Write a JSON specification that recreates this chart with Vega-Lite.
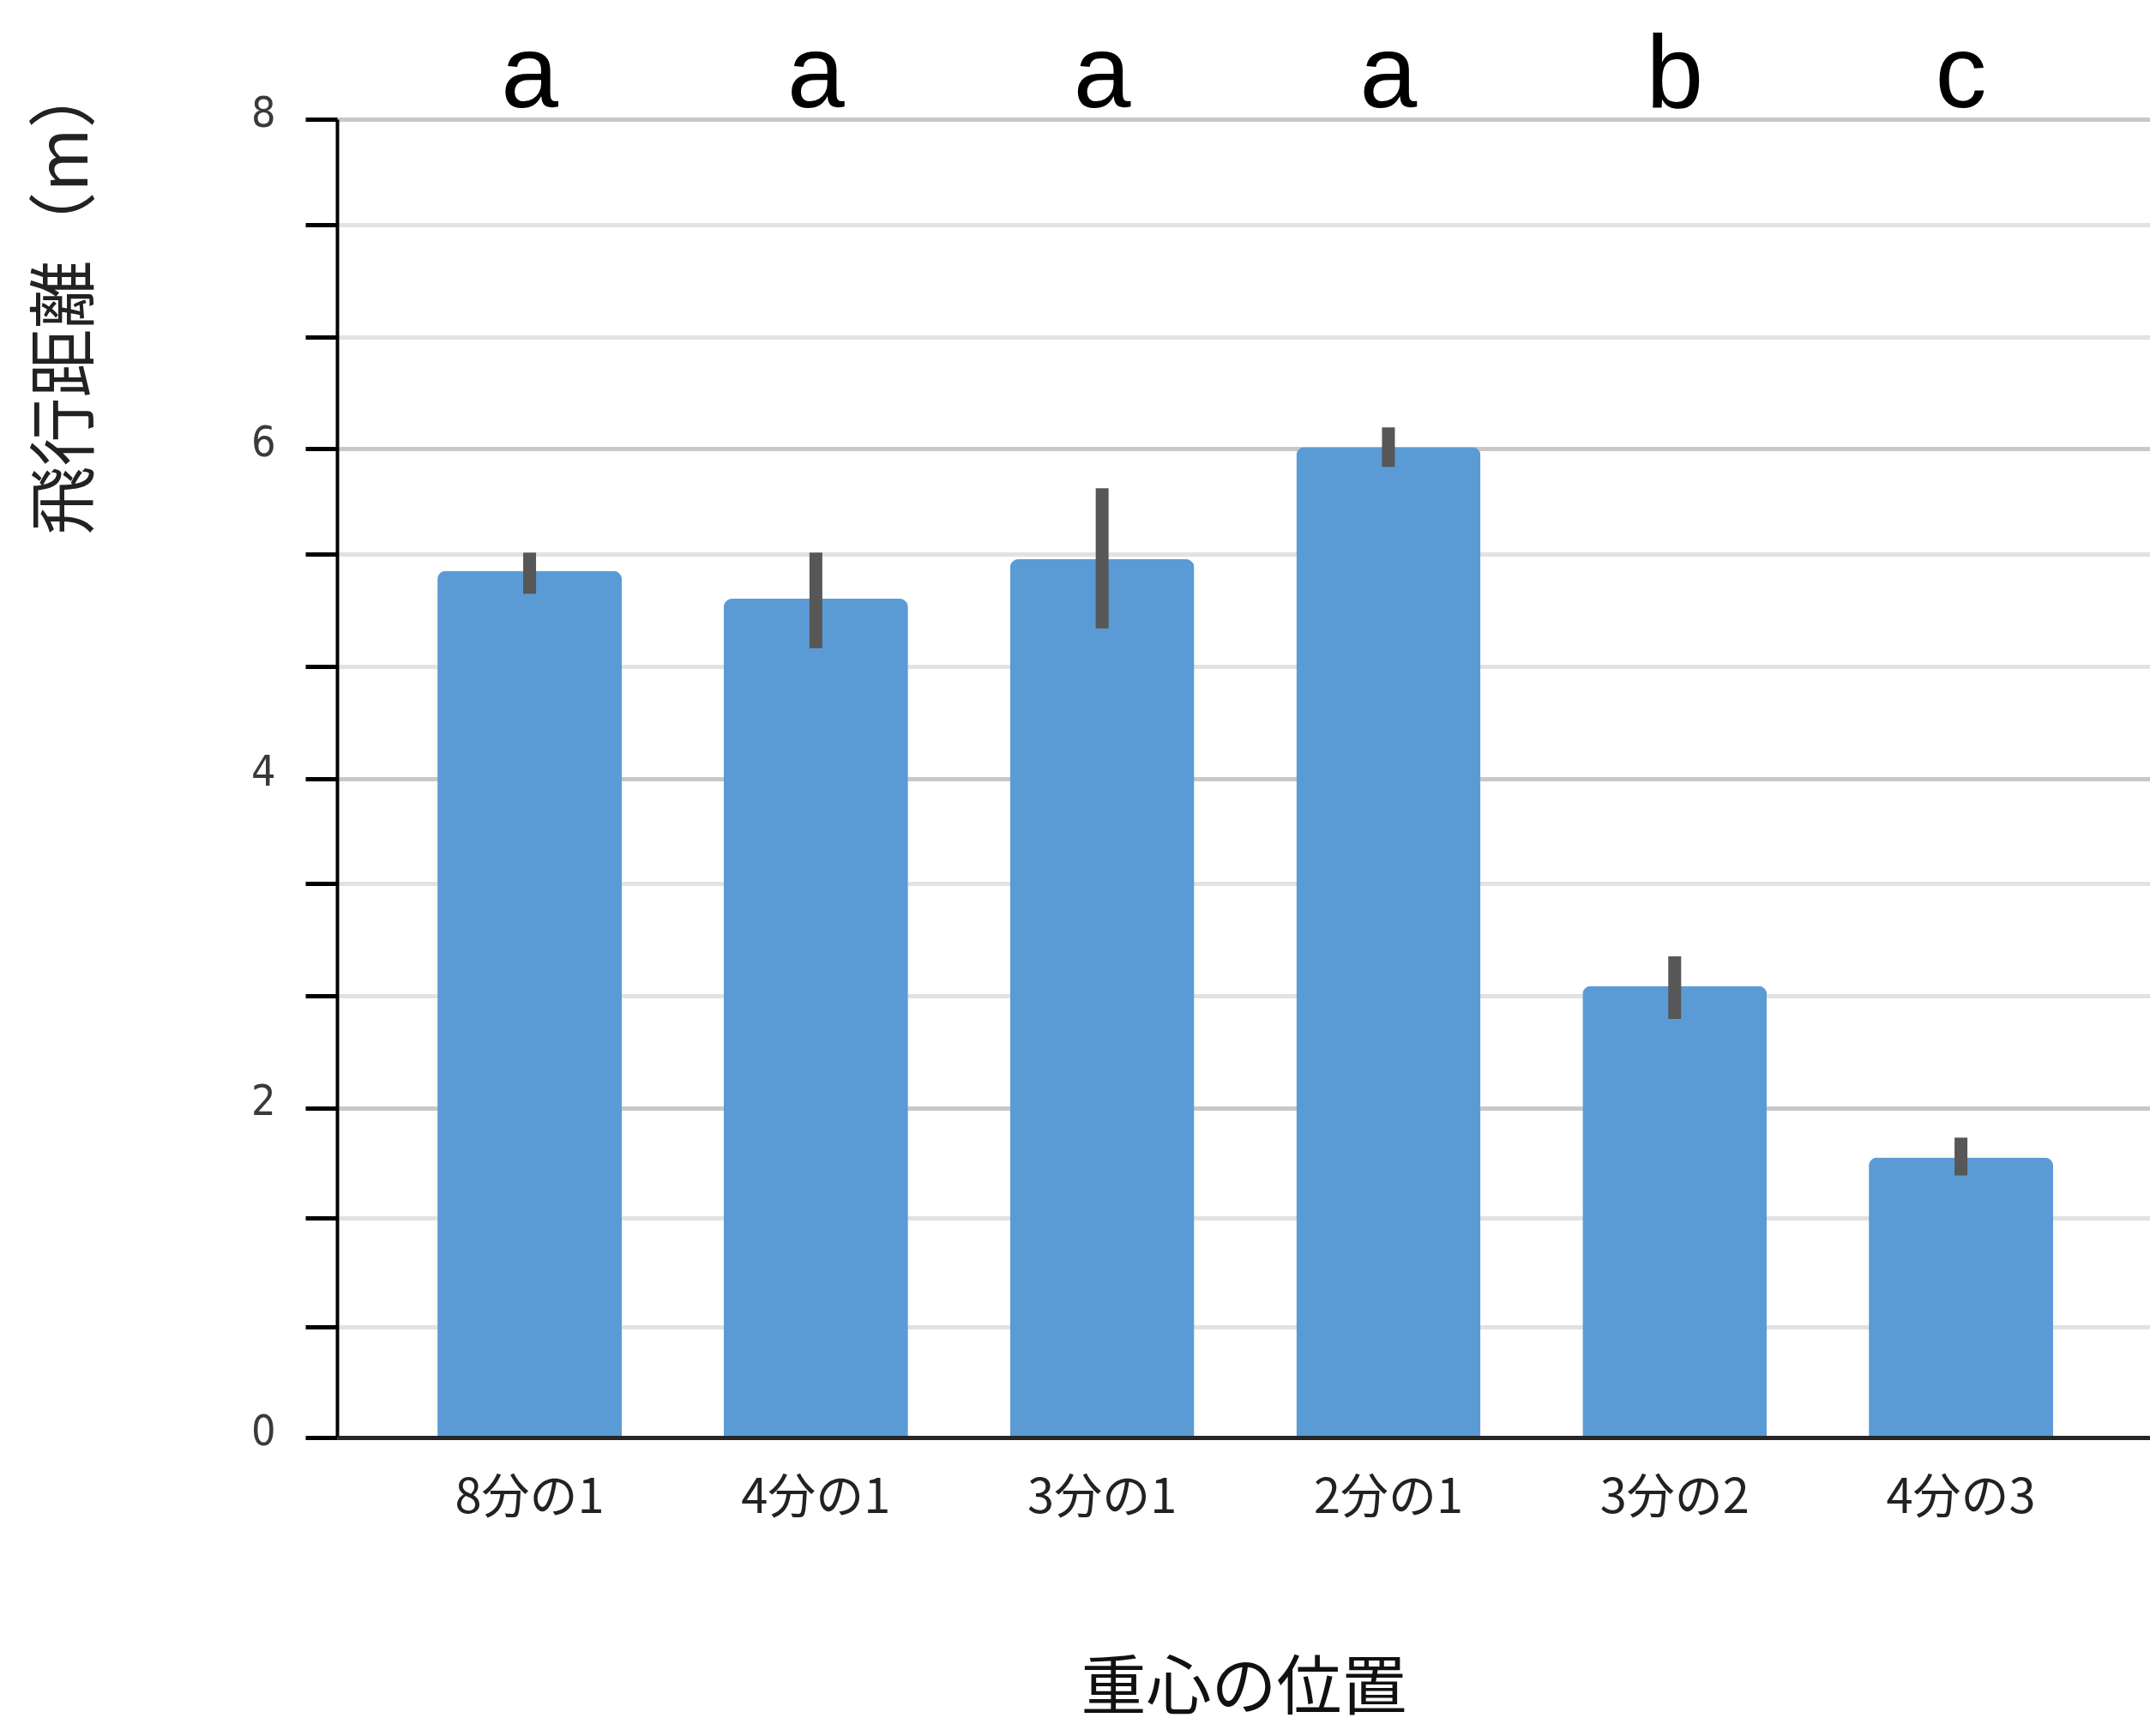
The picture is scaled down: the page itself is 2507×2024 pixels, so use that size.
{
  "$schema": "https://vega.github.io/schema/vega-lite/v6.json",
  "width": 2114,
  "height": 1537,
  "autosize": {"type": "none"},
  "padding": {"left": 393, "top": 139, "right": 0, "bottom": 348},
  "background": "white",
  "config": {"view": {"stroke": null}},
  "data": {
    "values": [
      {"group": "8分の1", "mean": 5.26, "lo": 5.12, "hi": 5.37, "letter": "a"},
      {"group": "4分の1", "mean": 5.09, "lo": 4.79, "hi": 5.37, "letter": "a"},
      {"group": "3分の1", "mean": 5.33, "lo": 4.91, "hi": 5.76, "letter": "a"},
      {"group": "2分の1", "mean": 6.01, "lo": 5.89, "hi": 6.13, "letter": "a"},
      {"group": "3分の2", "mean": 2.74, "lo": 2.54, "hi": 2.92, "letter": "b"},
      {"group": "4分の3", "mean": 1.7, "lo": 1.59, "hi": 1.82, "letter": "c"}
    ]
  },
  "encoding": {
    "x": {
      "field": "group",
      "type": "nominal",
      "sort": null,
      "scale": {"paddingInner": 0.356, "paddingOuter": 0.3445, "align": 0.509},
      "axis": {
        "title": "重心の位置",
        "titleFont": "Noto Sans CJK JP",
        "titleFontSize": 76,
        "titleFontWeight": "normal",
        "titleColor": "#111111",
        "titleY": 316,
        "titleBaseline": "alphabetic",
        "labelAngle": 0,
        "labelFont": "Noto Sans CJK JP",
        "labelFontSize": 56,
        "labelColor": "#222222",
        "labelBaseline": "alphabetic",
        "labelPadding": 87,
        "ticks": false,
        "tickSize": 0,
        "domainColor": "#262626",
        "domainWidth": 5,
        "grid": false,
        "zindex": 1
      }
    }
  },
  "layer": [
    {
      "mark": {"type": "bar", "color": "#5b9bd5", "cornerRadiusTopLeft": 10, "cornerRadiusTopRight": 10},
      "encoding": {
        "y": {
          "field": "mean",
          "type": "quantitative",
          "scale": {"domain": [0, 8], "nice": false},
          "axis": {
            "title": "飛行距離（m）",
            "titleFont": "Noto Sans CJK JP",
            "titleFontSize": 80,
            "titleFontWeight": "normal",
            "titleColor": "#222222",
            "titleAngle": 270,
            "titleX": -316,
            "titleY": 207,
            "titleAlign": "center",
            "titleBaseline": "middle",
            "values": [0, 0.67, 1.33, 2, 2.68, 3.36, 4, 4.68, 5.36, 6, 6.68, 7.36, 8],
            "domainColor": "#000000",
            "domainWidth": 4,
            "tickColor": "#000000",
            "tickWidth": 5,
            "tickSize": 37,
            "encode": {
              "ticks": {
                "update": {
                  "x": {"signal": "datum.value % 2 === 0 ? 39 : 19"},
                  "x2": {"signal": "datum.value % 2 === 0 ? -37 : -19"}
                }
              }
            },
            "labelExpr": "datum.value % 2 === 0 ? format(datum.value, 'd') : ''",
            "labelOverlap": false,
            "labelFont": "DejaVu Sans Condensed, Liberation Sans Narrow, Roboto, sans-serif",
            "labelFontSize": 50,
            "labelColor": "#3a3a3a",
            "labelPadding": 35,
            "labelOffset": -7,
            "grid": true,
            "gridColor": {"condition": {"test": "datum.value % 2 === 0", "value": "#c8c8c8"}, "value": "#e2e2e2"},
            "gridWidth": 5
          }
        }
      }
    },
    {
      "mark": {"type": "rule", "color": "#575757", "strokeWidth": 15, "strokeCap": "butt"},
      "encoding": {
        "y": {"field": "lo", "type": "quantitative", "axis": {"title": "飛行距離（m）"}},
        "y2": {"field": "hi"}
      }
    },
    {
      "mark": {"type": "text", "font": "Liberation Sans", "fontSize": 120, "baseline": "alphabetic", "dy": -14, "color": "#000000"},
      "encoding": {
        "y": {"datum": 8},
        "text": {"field": "letter"}
      }
    }
  ]
}
